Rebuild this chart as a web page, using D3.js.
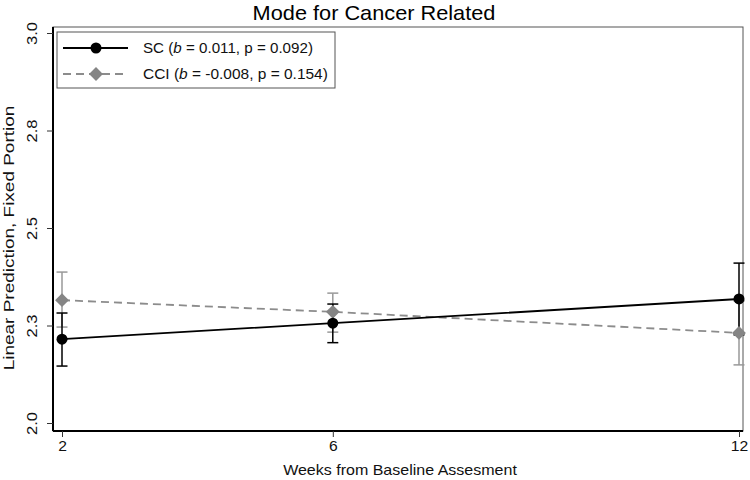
<!DOCTYPE html>
<html><head><meta charset="utf-8">
<script src="https://cdn.jsdelivr.net/npm/d3@7"></script>
<style>body{margin:0;background:#fff}svg{display:block}text{font-family:"Liberation Sans",Arial,sans-serif}</style>
</head><body><svg id="c" width="750" height="480"></svg>
<script>
const weeks = [2, 6, 12];
const scMean = [2.215, 2.256, 2.318];
const scLow = [2.146, 2.206, 2.226];
const scHigh = [2.282, 2.305, 2.410];
const cciMean = [2.315, 2.285, 2.231];
const cciLow = [2.246, 2.233, 2.149];
const cciHigh = [2.387, 2.333, 2.313];
const yTicks = [2.0, 2.25, 2.5, 2.75, 3.0];
const yTickLabels = ["2.0", "2.3", "2.5", "2.8", "3.0"];
const xTickLabels = ["2", "6", "12"];

const svg = d3.select("#c");
const frame = {l: 53, r: 743, t: 27, b: 431};
const x = d3.scaleLinear().domain([2, 12]).range([62, 739]);
const y = d3.scaleLinear().domain([2, 3]).range([423, 33]);

function fit(t, target, pre) {
  const w = t.node().getComputedTextLength();
  t.attr("transform", `${pre} scale(${target / w},1)`);
}

const title = svg.append("text").attr("x", 0).attr("y", 0).attr("text-anchor", "middle")
  .attr("font-size", 20).attr("fill", "#000").text("Mode for Cancer Related");
fit(title, 243, "translate(374,20)");

svg.append("rect").attr("x", frame.l).attr("y", frame.t).attr("width", frame.r - frame.l)
  .attr("height", frame.b - frame.t).attr("fill", "none").attr("stroke", "#555").attr("stroke-width", 1);

const yAxis = svg.append("g").attr("transform", `translate(${frame.l},0)`)
  .call(d3.axisLeft(y).tickValues(yTicks).tickSize(6).tickFormat((d, i) => yTickLabels[i]));
yAxis.select(".domain").attr("d", `M0,${frame.t}V${frame.b}`).attr("stroke", "#000").attr("stroke-width", 2);
yAxis.selectAll(".tick line").attr("stroke", "#333");
yAxis.selectAll(".tick text").attr("font-size", 14).attr("fill", "#111")
  .attr("text-anchor", "middle").attr("x", 0).attr("y", 0).attr("dy", null)
  .each(function() { fit(d3.select(this), 23, "translate(-16,0) rotate(-90)"); });

const yTitle = svg.append("text").attr("text-anchor", "middle").attr("font-size", 14.5).attr("fill", "#111")
  .text("Linear Prediction, Fixed Portion");
fit(yTitle, 265, "translate(14,238) rotate(-90)");

const xAxis = svg.append("g").attr("transform", `translate(0,${frame.b})`)
  .call(d3.axisBottom(x).tickValues(weeks).tickSize(6).tickFormat((d, i) => xTickLabels[i]));
xAxis.select(".domain").attr("d", `M${frame.l},0H${frame.r}`).attr("stroke", "#000").attr("stroke-width", 2);
xAxis.selectAll(".tick line").attr("stroke", "#333");
xAxis.selectAll(".tick text").attr("font-size", 14).attr("fill", "#111").attr("y", 10)
  .each(function() { fit(d3.select(this), this.getComputedTextLength() * 1.12, ""); });

const xTitle = svg.append("text").attr("text-anchor", "middle").attr("font-size", 14).attr("fill", "#111")
  .text("Weeks from Baseline Assesment");
fit(xTitle, 234, "translate(400,475)");

function series(mean, low, high, dash, lineColor, ebColor) {
  const line = d3.line().x((d, i) => x(weeks[i])).y(d => y(d));
  svg.append("path").datum(mean).attr("d", line).attr("fill", "none")
    .attr("stroke", lineColor).attr("stroke-width", 1.8).attr("stroke-dasharray", dash);
  const g = svg.append("g");
  weeks.forEach((w, i) => {
    const cx = x(w);
    g.append("line").attr("x1", cx).attr("x2", cx).attr("y1", y(low[i])).attr("y2", y(high[i]))
      .attr("stroke", ebColor).attr("stroke-width", 1.5);
    [low[i], high[i]].forEach(v => g.append("line").attr("x1", cx - 5.5).attr("x2", cx + 5.5)
      .attr("y1", y(v)).attr("y2", y(v)).attr("stroke", ebColor).attr("stroke-width", 1.5));
  });
}
const symCircle = d3.symbol().type(d3.symbolCircle).size(95);
const symDiamond = d3.symbol().type(d3.symbolSquare).size(95);
function drawMarkers(mean, type, color) {
  svg.append("g").selectAll("path").data(mean).join("path")
    .attr("d", type === "circle" ? symCircle : symDiamond)
    .attr("transform", (d, i) => `translate(${x(weeks[i])},${y(d)})` + (type === "circle" ? "" : " rotate(45)"))
    .attr("fill", color);
}
series(cciMean, cciLow, cciHigh, "8,5", "#8c8c8c", "#999");
series(scMean, scLow, scHigh, null, "#000", "#000");
drawMarkers(cciMean, "diamond", "#858585");
drawMarkers(scMean, "circle", "#000");

const lg = svg.append("g");
lg.append("rect").attr("x", 57).attr("y", 32).attr("width", 278).attr("height", 56)
  .attr("fill", "#fff").attr("stroke", "#555").attr("stroke-width", 1);
const legendItems = [
  {name: "SC", b: "0.011", p: "0.092", color: "#000", dash: null, type: "circle", w: 170},
  {name: "CCI", b: "-0.008", p: "0.154", color: "#8c8c8c", dash: "8,5", type: "diamond", w: 185}
];
legendItems.forEach((it, i) => {
  const yy = 48 + i * 26;
  lg.append("line").attr("x1", 63).attr("x2", 128).attr("y1", yy).attr("y2", yy)
    .attr("stroke", it.color).attr("stroke-width", 1.8).attr("stroke-dasharray", it.dash);
  lg.append("path").attr("d", it.type === "circle" ? symCircle : symDiamond)
    .attr("fill", it.type === "circle" ? "#000" : "#858585")
    .attr("transform", `translate(96,${yy})` + (it.type === "circle" ? "" : " rotate(45)"));
  const t = lg.append("text").attr("x", 0).attr("y", 0).attr("font-size", 14.5).attr("fill", "#111");
  t.append("tspan").text(it.name + " (");
  t.append("tspan").attr("font-style", "italic").text("b");
  t.append("tspan").text(` = ${it.b}, p = ${it.p})`);
  fit(t, it.w, `translate(143,${yy + 5})`);
});
</script></body></html>
